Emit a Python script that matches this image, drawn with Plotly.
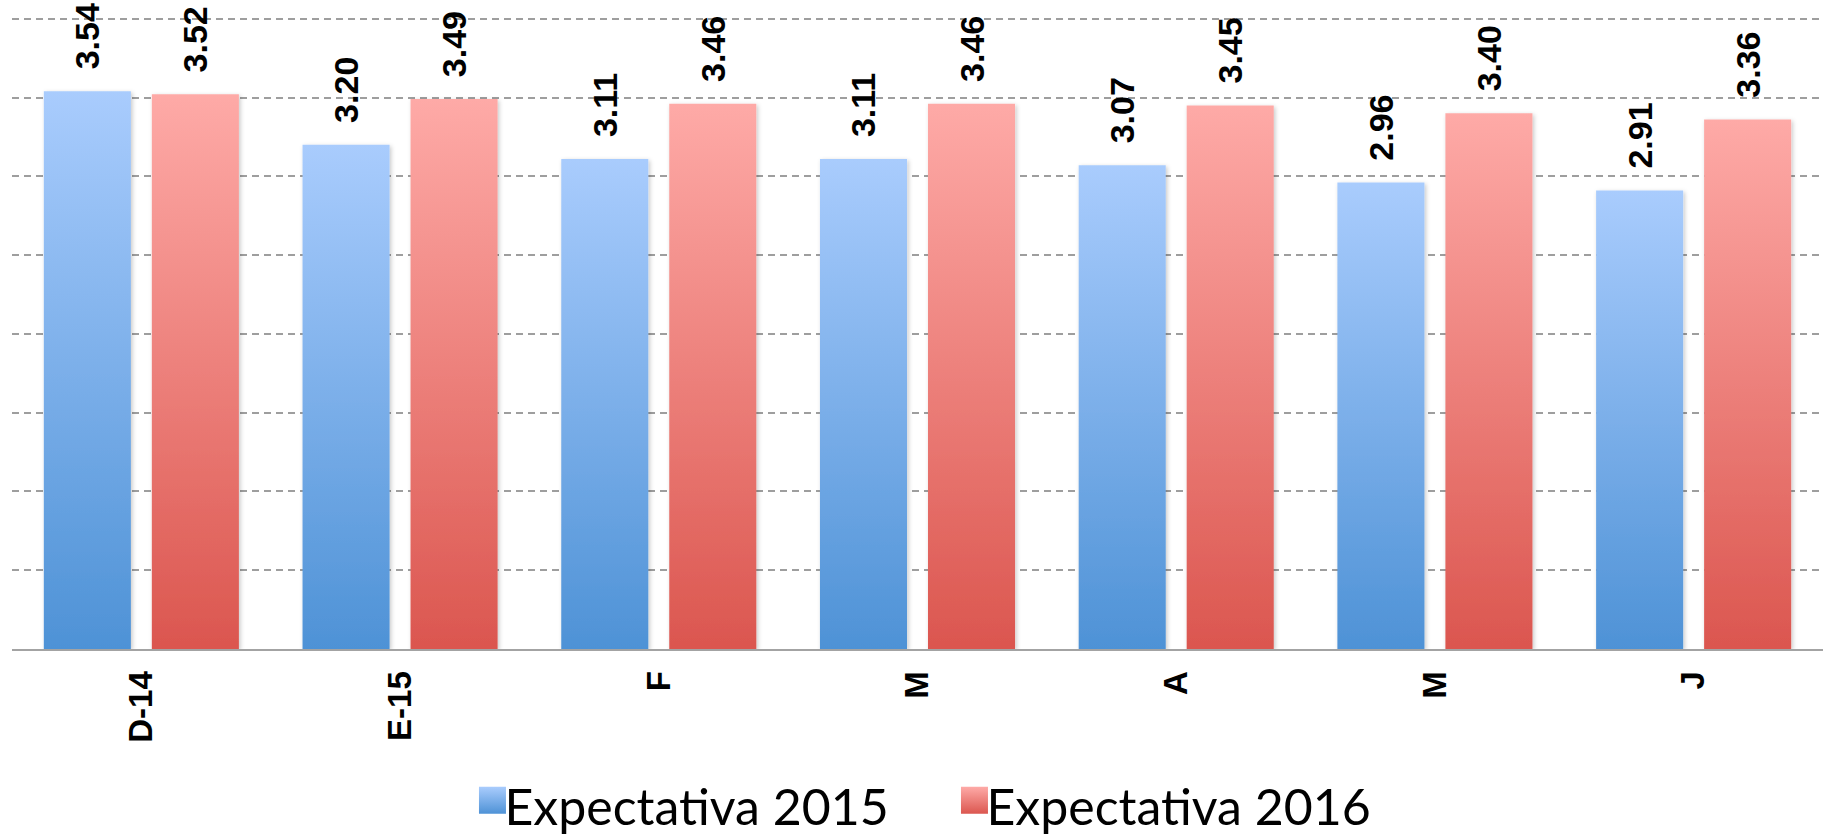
import plotly.graph_objects as go

categories = ["D-14", "E-15", "F", "M", "A", "M", "J"]
exp_2015 = [3.54, 3.20, 3.11, 3.11, 3.07, 2.96, 2.91]
exp_2016 = [3.52, 3.49, 3.46, 3.46, 3.45, 3.40, 3.36]
series_names = ["Expectativa 2015", "Expectativa 2016"]

x_pos = list(range(len(categories)))

label_font = dict(family="Liberation Sans, Arial, sans-serif", size=34, color="black", weight="bold")
tick_font = dict(family="Liberation Sans, Arial, sans-serif", size=33, color="black", weight="bold")

fig = go.Figure()
for name, vals, col in [(series_names[0], exp_2015, "#7BAEE9"), (series_names[1], exp_2016, "#EE7E79")]:
    fig.add_trace(go.Bar(
        x=x_pos, y=vals, name=name,
        marker=dict(color=col, line=dict(width=0)),
        texttemplate="\u00a0\u00a0%{y:.2f}",
        textposition="outside", textangle=-90,
        textfont=label_font, outsidetextfont=label_font,
        cliponaxis=False, constraintext="none",
        hoverinfo="skip",
    ))

fig.update_layout(
    width=1823, height=837,
    margin=dict(l=12, r=0, t=14, b=188, autoexpand=False),
    paper_bgcolor="white", plot_bgcolor="white",
    barmode="group", bargap=0.165, bargroupgap=0.194,
    showlegend=True,
    legend=dict(orientation="h", x=0.516, xanchor="center", y=-0.247, yanchor="middle",
                font=dict(family="Lato, sans-serif", size=50, color="black"),
                entrywidth=437,
                itemclick=False, itemdoubleclick=False),
    xaxis=dict(tickmode="array", tickvals=x_pos, ticktext=categories, range=[-0.5, len(categories) - 0.5],
               tickangle=-90, tickfont=tick_font, showgrid=False, zeroline=False, automargin=False,
               showline=True, linecolor="#a3a3a3", linewidth=2, ticks="", ticklabelstandoff=7),
    yaxis=dict(range=[0, 4.03], dtick=0.5, showticklabels=False, showgrid=True, gridcolor="#9e9e9e",
               griddash="7px,5px", gridwidth=2, zeroline=False, showline=False, ticks="", automargin=False),
)

post = """
document.body.style.margin = '0';
document.body.style.padding = '0';
document.documentElement.style.margin = '0';
document.body.style.overflow = 'hidden';
var gd = document.getElementById('{plot_id}');
function applyGrad(){
  var svg = gd.querySelector('svg.main-svg');
  if(!svg) return;
  var ns = 'http://www.w3.org/2000/svg';
  if(!document.getElementById('gradBlue')){
    var defs = svg.querySelector('defs') || svg.insertBefore(document.createElementNS(ns,'defs'), svg.firstChild);
    function mk(id, top, bot){
      var g = document.createElementNS(ns,'linearGradient');
      g.setAttribute('id', id); g.setAttribute('x1','0'); g.setAttribute('y1','0');
      g.setAttribute('x2','0'); g.setAttribute('y2','1');
      var s1 = document.createElementNS(ns,'stop'); s1.setAttribute('offset','0'); s1.setAttribute('stop-color', top);
      var s2 = document.createElementNS(ns,'stop'); s2.setAttribute('offset','1'); s2.setAttribute('stop-color', bot);
      g.appendChild(s1); g.appendChild(s2); defs.appendChild(g);
    }
    mk('gradBlue', '#A9CCFD', '#4E92D6');
    mk('gradRed', '#FEAAA7', '#DB564F');
    var f = document.createElementNS(ns,'filter');
    f.setAttribute('id','barShadow'); f.setAttribute('x','-10%'); f.setAttribute('y','-10%');
    f.setAttribute('width','130%'); f.setAttribute('height','130%');
    var ds = document.createElementNS(ns,'feDropShadow');
    ds.setAttribute('dx','1.5'); ds.setAttribute('dy','1.5'); ds.setAttribute('stdDeviation','2');
    ds.setAttribute('flood-color','#000'); ds.setAttribute('flood-opacity','0.22');
    f.appendChild(ds); defs.appendChild(f);
  }
  var ids = ['gradBlue','gradRed'];
  var traces = gd.querySelectorAll('.barlayer .trace');
  traces.forEach(function(t, i){
    t.querySelectorAll('.point path').forEach(function(p){
      p.style.fill = 'url(#' + ids[i % 2] + ')';
      p.setAttribute('filter', 'url(#barShadow)');
    });
  });
  var items = gd.querySelectorAll('.legend .traces');
  items.forEach(function(t, i){
    t.querySelectorAll('.legendpoints path').forEach(function(p){
      p.setAttribute('d','M21.5,8H-5.5V-19H21.5Z');
      p.style.fill = 'url(#' + ids[i % 2] + ')';
      p.style.stroke = 'none';
    });
  });
}
applyGrad();
gd.on('plotly_afterplot', applyGrad);
"""

fig.write_html("out.html", post_script=post, config={"displayModeBar": False})
